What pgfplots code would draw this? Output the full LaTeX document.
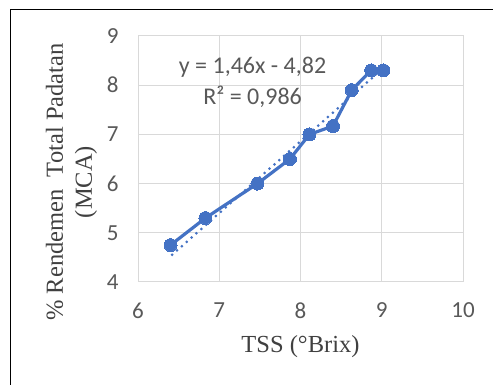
\documentclass[border=0pt]{standalone}
\usepackage{pgfplots}
\pgfplotsset{compat=1.18}
\usepackage{fontspec}
\setmainfont{Carlito}
\newfontfamily\serifl{Liberation Serif}
\definecolor{xblue}{HTML}{4472C4}
\definecolor{xgrid}{HTML}{D9D9D9}
\definecolor{xtext}{HTML}{595959}
\begin{document}
\begin{tikzpicture}[x=1pt,y=1pt]
\useasboundingbox (0,0) rectangle (493,385);
\draw[black, line width=1.3pt] (10.5,375.5) rectangle (520,-20);
\begin{axis}[
  at={(138pt,103pt)}, anchor=south west,
  scale only axis, width=325pt, height=246pt,
  xmin=6, xmax=10, ymin=4, ymax=9,
  xtick={6,7,8,9,10}, ytick={4,5,6,7,8,9},
  grid=major,
  major grid style={xgrid, line width=1pt},
  axis line style={xgrid, line width=1pt},
  tick style={draw=none},
  /pgf/number format/assume math mode=true,
  tick label style={font=\fontsize{23}{27}\selectfont, text=xtext},
  xticklabel style={yshift=-17pt},
  yticklabel style={xshift=-16pt},
  xlabel={TSS (°Brix)},
  ylabel={\% Rendemen\ \ Total Padatan\\(MCA)},
  label style={font=\serifl\fontsize{24.5}{29}\selectfont, text=black!75},
  xlabel style={at={(axis description cs:0.5,-0.264)}, anchor=center},
  ylabel style={at={(axis description cs:-0.2046,0.4065)}, anchor=center, align=center},
  clip=false,
]
\addplot[xblue, line width=3pt, line cap=round, dash pattern=on 0pt off 6.5pt, forget plot] coordinates {(6.42,4.553) (9.02,8.349)};
\addplot[xblue, line width=3.2pt, mark=*, mark size=6.5pt, mark options={solid, fill=xblue, draw=xblue, line width=0pt}] coordinates {
(6.40,4.75) (6.83,5.30) (7.47,6.00) (7.87,6.50) (8.11,7.00) (8.40,7.17) (8.63,7.90) (8.87,8.30) (9.02,8.30)};
\node[font=\fontsize{24}{31}\selectfont, text=xtext, align=center] at (axis cs:7.41,8.06) {y = 1,46x - 4,82\\R² = 0,986};
\end{axis}
\end{tikzpicture}
\end{document}
